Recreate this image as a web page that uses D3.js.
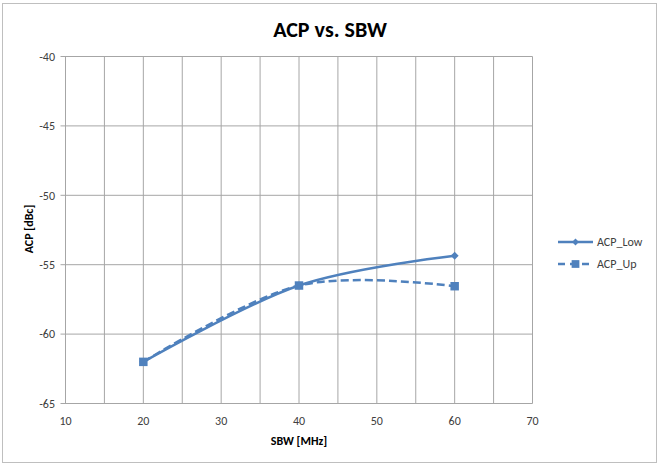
<!DOCTYPE html>
<html><head><meta charset="utf-8">
<script src="https://cdn.jsdelivr.net/npm/d3@7"></script>
<style>body{margin:0;background:#fff}</style>
</head><body>
<script>
const sbw = [20, 40, 60];
const acpLow = [-62.0, -56.5, -54.35];
const acpUp = [-62.0, -56.5, -56.55];
const xTicks = [10, 20, 30, 40, 50, 60, 70];
const xGrid = [10, 15, 20, 25, 30, 35, 40, 45, 50, 55, 60, 65, 70];
const yTicks = [-40, -45, -50, -55, -60, -65];
const seriesNames = ["ACP_Low", "ACP_Up"];

const W = 660, H = 466;
const color = "#4F81BD";
const svg = d3.select("body").append("svg").attr("width", W).attr("height", H);
svg.append("rect").attr("x", 2.5).attr("y", 3.5).attr("width", 654).attr("height", 459)
  .attr("fill", "#fff").attr("stroke", "#BFBFBF").attr("stroke-width", 1);

const x = d3.scaleLinear().domain([10, 70]).range([65.5, 532.5]);
const y = d3.scaleLinear().domain([-65, -40]).range([403.5, 56.5]);

const g = svg.append("g");
// grid
g.selectAll(".vg").data(xGrid).join("line")
  .attr("x1", d => x(d)).attr("x2", d => x(d)).attr("y1", y(-40)).attr("y2", y(-65))
  .attr("stroke", "#A6A6A6").attr("stroke-width", 1);
g.selectAll(".hg").data(yTicks).join("line")
  .attr("x1", x(10) - 5).attr("x2", x(70)).attr("y1", d => y(d)).attr("y2", d => y(d))
  .attr("stroke", "#A6A6A6").attr("stroke-width", 1);

const font = "Calibri, Carlito, 'Open Sans', 'Liberation Sans', sans-serif";
// tick labels
g.selectAll(".yl").data(yTicks).join("text")
  .attr("x", 55).attr("y", d => y(d)).attr("dy", "0.35em")
  .attr("text-anchor", "end").attr("font-family", font).attr("font-size", 12).attr("fill", "#404040")
  .text(d => d);
g.selectAll(".xl").data(xTicks).join("text")
  .attr("x", d => x(d)).attr("y", 425)
  .attr("text-anchor", "middle").attr("font-family", font).attr("font-size", 12).attr("fill", "#404040")
  .text(d => d);

// titles
svg.append("text").attr("x", 330).attr("y", 37).attr("text-anchor", "middle")
  .attr("font-family", font).attr("font-weight", "bold").attr("font-size", 22).attr("fill", "#000")
  .text("ACP vs. SBW");
svg.append("text").attr("x", 299).attr("y", 445).attr("text-anchor", "middle")
  .attr("font-family", font).attr("font-weight", "bold").attr("font-size", 12).attr("fill", "#000")
  .text("SBW [MHz]");
svg.append("text").attr("transform", "translate(33,229) rotate(-90)").attr("text-anchor", "middle")
  .attr("font-family", font).attr("font-weight", "bold").attr("font-size", 12).attr("fill", "#000")
  .text("ACP [dBc]");

const line = d3.line().x(d => x(d[0])).y(d => y(d[1])).curve(d3.curveCardinal.tension(0));
const lowPts = sbw.map((s, i) => [s, acpLow[i]]);
const upPts = sbw.map((s, i) => [s, acpUp[i]]);

g.append("path").attr("d", line(upPts)).attr("fill", "none").attr("stroke", color)
  .attr("stroke-width", 2.5).attr("stroke-dasharray", "8,4");
g.append("path").attr("d", line(lowPts)).attr("fill", "none").attr("stroke", color)
  .attr("stroke-width", 2.5);

g.selectAll(".dm").data(lowPts).join("path")
  .attr("d", d3.symbol().type(d3.symbolSquare2).size(40)).attr("fill", color)
  .attr("transform", d => `translate(${x(d[0])},${y(d[1])}) rotate(45)`);
g.selectAll(".sq").data(upPts).join("path")
  .attr("transform", d => `translate(${x(d[0])},${y(d[1])})`)
  .attr("d", d3.symbol().type(d3.symbolSquare).size(72)).attr("fill", color);

// legend
const leg = svg.append("g");
const ly = [242, 264];
leg.append("line").attr("x1", 558).attr("x2", 593).attr("y1", ly[0]).attr("y2", ly[0])
  .attr("stroke", color).attr("stroke-width", 2.5);
leg.append("path").attr("d", d3.symbol().type(d3.symbolSquare2).size(30)())
  .attr("transform", `translate(575.5,${ly[0]}) rotate(45)`).attr("fill", color);
leg.append("line").attr("x1", 558).attr("x2", 593).attr("y1", ly[1]).attr("y2", ly[1])
  .attr("stroke", color).attr("stroke-width", 2.5).attr("stroke-dasharray", "7,5");
leg.append("path").attr("d", d3.symbol().type(d3.symbolSquare).size(60)())
  .attr("transform", `translate(575.5,${ly[1]})`).attr("fill", color);
leg.selectAll(".lt").data(seriesNames).join("text")
  .attr("x", 597).attr("y", (d, i) => ly[i]).attr("dy", "0.35em")
  .attr("font-family", font).attr("font-size", 12).attr("fill", "#404040")
  .text(d => d);
</script>
</body></html>
